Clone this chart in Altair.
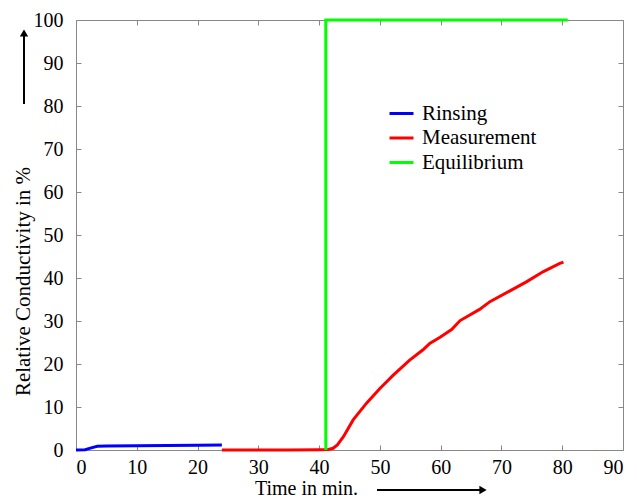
import altair as alt
import pandas as pd

# ---- data ----
rinsing_x = [0, 1.5, 2.5, 3.5, 5, 10, 15, 20, 24]
rinsing_y = [0, 0.05, 0.5, 0.85, 0.95, 1.0, 1.05, 1.1, 1.15]

meas_x = [24, 30, 35, 40, 41.5, 42.3, 43, 44.0, 45.6, 47.8, 50.0, 52.2, 54.9, 57.1,
          58.2, 59.9, 61.8, 63.2, 66.4, 68.1, 71.4, 74.1, 76.9, 79.6, 80.2]
meas_y = [0, 0, 0, 0.05, 0.1, 0.4, 1.2, 3.1, 7.0, 10.9, 14.3, 17.4, 20.9, 23.3,
          24.8, 26.2, 28.0, 30.1, 32.7, 34.5, 37.0, 39.1, 41.5, 43.4, 43.7]

equil_x = [41.1, 41.1, 80.9]
equil_y = [0, 100, 100]

series = ["Rinsing", "Measurement", "Equilibrium"]
colors = ["#0000ff", "#ff0000", "#00ff00"]
x_ticks = list(range(0, 91, 10))
y_ticks = list(range(0, 101, 10))

rows = []
for name, xs, ys in zip(series, [rinsing_x, meas_x, equil_x], [rinsing_y, meas_y, equil_y]):
    for i, (a, b) in enumerate(zip(xs, ys)):
        rows.append({"series": name, "t": a, "v": b, "i": i})
df = pd.DataFrame(rows)

FONT = "'Liberation Serif', 'Times New Roman', Times, serif"
W, H = 547, 430
TK = 5  # inward tick length

xs = alt.Scale(domain=[0, 90], nice=False)
ys = alt.Scale(domain=[0, 100], nice=False)

lines = alt.Chart(df).mark_line(strokeWidth=3, clip=False).encode(
    x=alt.X("t:Q", scale=xs, axis=alt.Axis(
        orient="bottom", values=x_ticks, title="Time in min.", titleX=230, titleY=43,
        titleFontSize=20, titleBaseline="middle", titleAlign="center",
        labelPadding=7, offset=-TK)),
    y=alt.Y("v:Q", scale=ys, axis=alt.Axis(
        orient="left", values=y_ticks, title="Relative Conductivity in %", titleX=-58, titleY=261,
        titleBaseline="middle", titleAlign="center", labelPadding=13, offset=-TK)),
    color=alt.Color("series:N", scale=alt.Scale(domain=series, range=colors), legend=alt.Legend(
        title=None, orient="none", legendX=312, legendY=80, symbolType="stroke",
        symbolSize=576, symbolStrokeWidth=3, labelFont=FONT, labelFontSize=21,
        labelColor="black", labelOffset=7, rowPadding=0.5, padding=0)),
    detail="series:N",
    order="i:Q",
)

mirror = alt.Chart(df).mark_line(opacity=0).encode(
    x=alt.X("t:Q", scale=xs, axis=alt.Axis(orient="top", values=x_ticks, labels=False,
                                          title=None, offset=-TK)),
    y=alt.Y("v:Q", scale=ys, axis=alt.Axis(orient="right", values=y_ticks, labels=False,
                                          title=None, offset=-TK)),
)

one = pd.DataFrame({"k": [0]})
yarrow = alt.Chart(one).mark_rule(color="black", strokeWidth=2).encode(
    x=alt.value(-52), y=alt.value(84), y2=alt.value(15))
yhead = alt.Chart(one).mark_point(shape="triangle-up", filled=True, color="black", size=70, opacity=1).encode(
    x=alt.value(-52), y=alt.value(13))
xarrow = alt.Chart(one).mark_rule(color="black", strokeWidth=2).encode(
    x=alt.value(301), x2=alt.value(404), y=alt.value(470))
xhead = alt.Chart(one).mark_point(shape="triangle-right", filled=True, color="black", size=70, opacity=1).encode(
    x=alt.value(407), y=alt.value(470))

chart = alt.layer(lines, mirror, yarrow, yhead, xarrow, xhead).resolve_axis(
    x="independent", y="independent"
).properties(
    width=W, height=H, autosize=alt.AutoSizeParams(type="none"),
    padding={"left": 68, "top": 12, "right": 6, "bottom": 48},
).configure_axis(
    domain=False, tickSize=TK, tickColor="#888888", tickWidth=1, grid=False,
    labelFont=FONT, labelFontSize=20, labelColor="black",
    titleFont=FONT, titleFontSize=21, titleColor="black", titleFontWeight="normal",
).configure_view(stroke="#888888", strokeWidth=1)

chart.save("out.html", embed_options={"renderer": "svg", "actions": False})
